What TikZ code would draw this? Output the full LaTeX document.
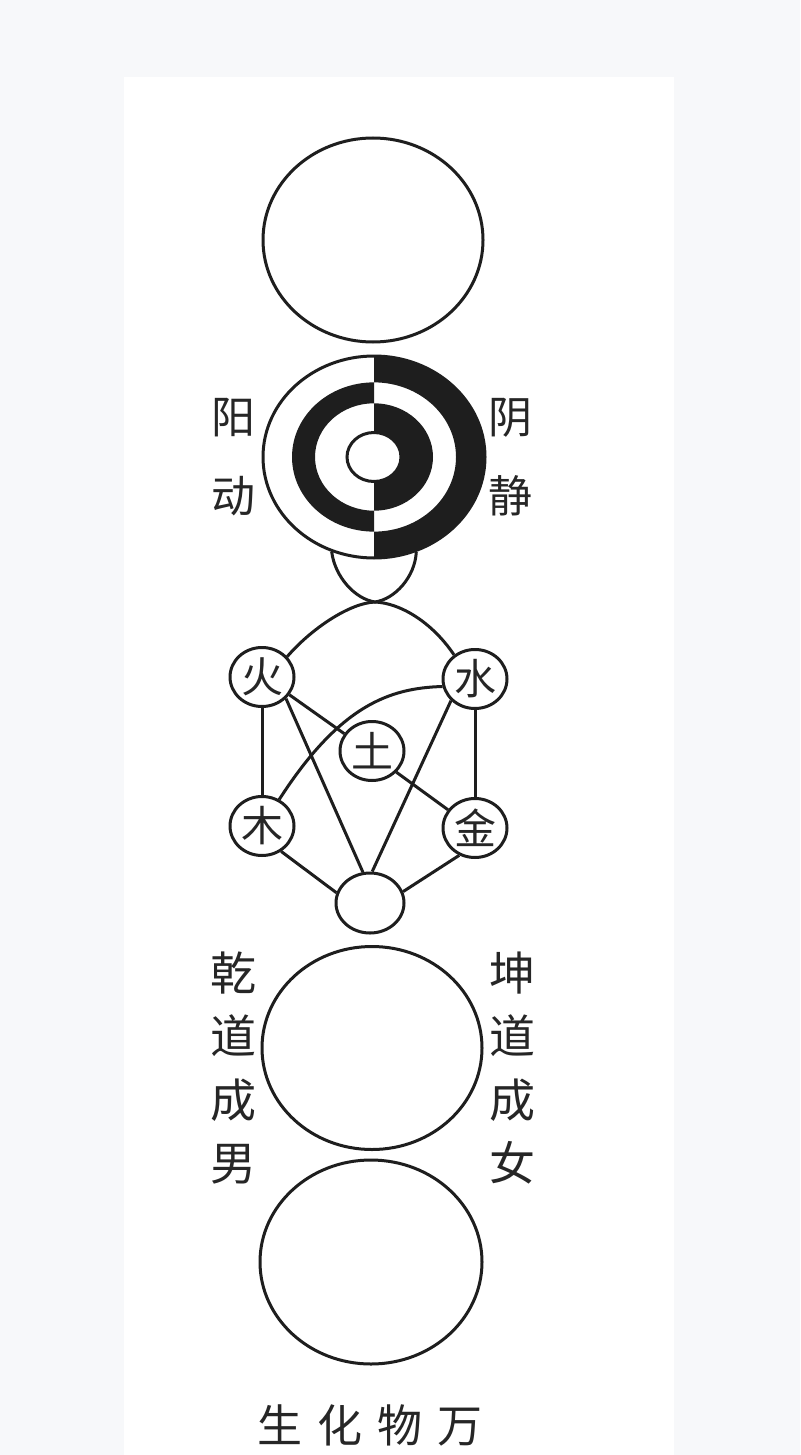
\documentclass[tikz,border=0pt]{standalone}
\usepackage{fontspec}
\newfontfamily\cjk{Noto Sans CJK SC}
\usetikzlibrary{shapes.geometric}
\definecolor{linec}{HTML}{1E1E1E}
\definecolor{textc}{HTML}{262626}
\definecolor{bgc}{HTML}{F7F8FA}
\begin{document}
\begin{tikzpicture}[x=1pt,y=-1pt,
  ln/.style={draw=linec, line width=3pt},
  ring/.style={ellipse, draw=linec, line width=3pt, inner sep=0pt, fill=white},
  elem/.style={ring, minimum width=64pt, minimum height=59pt, font={\cjk\fontsize{42}{42}\selectfont}, text=textc},
  side/.style={font={\cjk\fontsize{44}{79}\selectfont}, text=textc, align=center, inner sep=0pt},
  sidetall/.style={font={\cjk\fontsize{46}{63.5}\selectfont}, text=textc, align=center, inner sep=0pt},
  foot/.style={font={\cjk\fontsize{45}{45}\selectfont}, text=textc, inner sep=0pt},
]
\fill[bgc] (0,0) rectangle (800,1455);
\fill[white] (124,77) rectangle (674,1455);
\useasboundingbox (0,0) rectangle (800,1455);

% top circle (wuji)
\node[ring, minimum width=220pt, minimum height=204pt] (wuji) at (373,240) {};

% yin-yang rings
\begin{scope}[shift={(374,457)}, yscale=0.91]
  \fill[linec] (0,111) arc (90:-90:111) -- (0,-82) arc (-90:90:82) -- cycle;
  \fill[linec] (0,82) arc (90:270:82) -- (0,-59) arc (270:90:59) -- cycle;
  \fill[linec] (0,59) arc (90:-90:59) -- (0,-27) arc (-90:90:27) -- cycle;
\end{scope}
\node[ring, fill=none, minimum width=222pt, minimum height=202pt] (yy) at (374,457) {};
\node[ring, minimum width=54pt, minimum height=49pt] (yyc) at (374,457) {};

% five elements
\node[elem] (huo) at (262,677) {火};
\node[elem] (shui) at (475,679) {水};
\node[elem] (tu) at (372,751) {土};
\node[elem] (mu) at (262,826) {木};
\node[elem] (jin) at (475,828) {金};
\node[ring, minimum width=68pt, minimum height=60pt] (dan) at (370,903) {};

% lens below the yin-yang and arches
\coordinate (tip) at (375,602);
\draw[ln] (yy.246) .. controls (335,577) and (355,599) .. (tip)
          .. controls (395,599) and (415,577) .. (yy.294);
\draw[ln] (tip) .. controls (350,603) and (312,628) .. (huo.39);
\draw[ln] (tip) .. controls (400,603) and (432,622) .. (shui.131);

% connectors
\draw[ln] (huo.-90) -- (mu.90);
\draw[ln] (shui.-90) -- (jin.90);
\draw[ln] (huo.-33) -- (tu.148);
\draw[ln] (tu.-41) -- (jin.146);
\draw[ln] (huo.-42) -- (dan.103);
\draw[ln] (shui.222) -- (dan.86);
\draw[ln] (mu.-53) -- (dan.163);
\draw[ln] (jin.240) -- (dan.19);
\draw[ln] (shui.193) .. controls (390,688) and (340,705) .. (mu.57);

% lower circles
\node[ring, minimum width=220pt, minimum height=203pt] (qian) at (372,1048) {};
\node[ring, minimum width=222pt, minimum height=204pt] (wanwu) at (371,1262) {};

% labels
\node[side] (yang) at (233,457.5) {阳\\动};
\node[side] (yin) at (510,457.5) {阴\\静};
\node[sidetall] (qd) at (233,1068) {乾\\道\\成\\男};
\node[sidetall] (kd) at (512,1068) {坤\\道\\成\\女};
\node[foot] (sh) at (370,1425) {生\kern15pt 化\kern15pt 物\kern15pt 万};
\end{tikzpicture}
\end{document}
